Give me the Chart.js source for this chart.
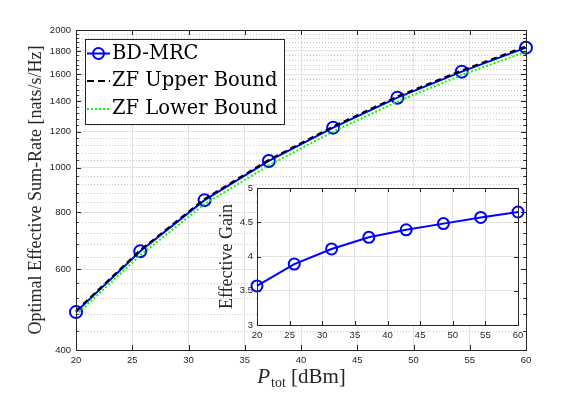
<!DOCTYPE html>
<html lang="en">
<head>
<meta charset="UTF-8">
<title>Sum-rate chart</title>
<script src="https://cdn.jsdelivr.net/npm/chart.js@4.4.0/dist/chart.umd.min.js"></script>
<style>
  html, body { margin: 0; padding: 0; background: #fff; }
  #wrap { position: relative; width: 581px; height: 394px; }
  #wrap canvas { position: absolute; left: 0; top: 0; }
</style>
</head>
<body>
<div id="wrap">
  <canvas id="main" width="581" height="394"></canvas>
  <canvas id="inset" width="581" height="394"></canvas>
</div>
<script>
// data
const ptot = [20, 25.71, 31.43, 37.14, 42.86, 48.57, 54.29, 60];
const bdMrc = [484, 657, 850, 1035, 1224, 1423, 1622, 1830];
const zfUpper = [487, 661, 855, 1041, 1231, 1432, 1632, 1842];
const zfLower = [477, 644, 833, 1012, 1200, 1395, 1595, 1793];
const gain = [3.57, 3.89, 4.11, 4.28, 4.39, 4.48, 4.57, 4.65];

const xTicks = [20, 25, 30, 35, 40, 45, 50, 55, 60];
const yTicks = [400, 600, 800, 1000, 1200, 1400, 1600, 1800, 2000];
const gainTicks = [3, 3.5, 4, 4.5, 5];

const axisColor = '#262626';
const gridColor = '#e3e3e3';
const serif = 'Liberation Serif';
const sans = 'Liberation Sans';

// minor ticks: 5 steps between each pair of labelled y ticks
const yMinor = [];
for (let i = 0; i < yTicks.length - 1; i++) {
  const step = (yTicks[i + 1] - yTicks[i]) / 5;
  for (let k = 1; k < 5; k++) yMinor.push(yTicks[i] + k * step);
}

const pts = (xs, ys) => xs.map((x, i) => ({ x: x, y: ys[i] }));

// box + inward ticks like the original
function frame(chart, majorY, minorY, len) {
  const { ctx, chartArea: a, scales } = chart;
  ctx.save();
  ctx.strokeStyle = axisColor;
  ctx.lineWidth = 1;
  ctx.beginPath();
  xTicks.forEach(v => {
    const px = Math.round(scales.x.getPixelForValue(v)) + 0.5;
    ctx.moveTo(px, a.bottom); ctx.lineTo(px, a.bottom - len);
    ctx.moveTo(px, a.top); ctx.lineTo(px, a.top + len);
  });
  majorY.forEach(v => {
    const py = Math.round(scales.y.getPixelForValue(v)) + 0.5;
    ctx.moveTo(a.left, py); ctx.lineTo(a.left + len, py);
    ctx.moveTo(a.right, py); ctx.lineTo(a.right - len, py);
  });
  minorY.forEach(v => {
    const py = Math.round(scales.y.getPixelForValue(v)) + 0.5;
    ctx.moveTo(a.left, py); ctx.lineTo(a.left + len * 0.55, py);
    ctx.moveTo(a.right, py); ctx.lineTo(a.right - len * 0.55, py);
  });
  ctx.stroke();
  ctx.strokeRect(Math.round(a.left) + 0.5, Math.round(a.top) + 0.5,
    Math.round(a.right - a.left), Math.round(a.bottom - a.top));
  ctx.restore();
}

const mainPlugin = {
  id: 'mainDeco',
  beforeDatasetsDraw(chart) {
    const { ctx, chartArea: a, scales } = chart;
    ctx.save();
    ctx.strokeStyle = '#c8c8c8';
    ctx.lineWidth = 1;
    ctx.setLineDash([1, 2]);
    ctx.beginPath();
    yMinor.forEach(v => {
      const py = Math.round(scales.y.getPixelForValue(v)) + 0.5;
      ctx.moveTo(a.left, py); ctx.lineTo(a.right, py);
    });
    ctx.stroke();
    ctx.restore();
  },
  afterDraw(chart) {
    const { ctx, chartArea: a } = chart;
    frame(chart, yTicks, yMinor, 5);

    // x title: P_tot [dBm]
    ctx.save();
    ctx.fillStyle = axisColor;
    ctx.textBaseline = 'alphabetic';
    const big = '21px "' + serif + '"';
    const bigIt = 'italic 21px "' + serif + '"';
    const small = '14px "' + serif + '"';
    ctx.font = bigIt; const wP = ctx.measureText('P').width;
    ctx.font = small; const wS = ctx.measureText('tot').width;
    ctx.font = big; const wB = ctx.measureText(' [dBm]').width;
    let x = (a.left + a.right) / 2 - (wP + wS + wB) / 2;
    const base = 383;
    ctx.font = bigIt; ctx.fillText('P', x, base); x += wP + 1;
    ctx.font = small; ctx.fillText('tot', x, base + 4); x += wS;
    ctx.font = big; ctx.fillText(' [dBm]', x, base);

    // legend
    const lx = 85, ly = 39, lw = 199, lh = 85;
    ctx.fillStyle = '#fff';
    ctx.fillRect(lx, ly, lw, lh);
    ctx.strokeStyle = axisColor;
    ctx.lineWidth = 1;
    ctx.strokeRect(lx + 0.5, ly + 0.5, lw, lh);
    const items = chart.data.datasets;
    const rows = [53.5, 81, 109];
    ctx.font = '19.5px "DejaVu Serif"';
    items.forEach((ds, i) => {
      const y = rows[i];
      ctx.save();
      ctx.strokeStyle = ds.borderColor;
      ctx.lineWidth = ds.borderWidth;
      ctx.setLineDash(ds.legendDash || []);
      ctx.beginPath(); ctx.moveTo(87, y); ctx.lineTo(110, y); ctx.stroke();
      if (ds.pointRadius > 0) {
        ctx.setLineDash([]);
        ctx.lineWidth = ds.pointBorderWidth;
        ctx.beginPath(); ctx.arc(98.5, y, 5.5, 0, Math.PI * 2); ctx.stroke();
      }
      ctx.restore();
      ctx.fillStyle = '#000';
      ctx.fillText(ds.label, 112, y + 5);
    });
    ctx.restore();
  }
};

new Chart(document.getElementById('main'), {
  type: 'line',
  data: {
    datasets: [
      {
        label: 'BD-MRC', data: pts(ptot, bdMrc),
        borderColor: '#0000ff', borderWidth: 2,
        pointRadius: 6, pointBorderWidth: 2, pointBorderColor: '#0000ff',
        pointBackgroundColor: 'rgba(0,0,0,0)', clip: false, order: 3
      },
      {
        label: 'ZF Upper Bound', data: pts(ptot, zfUpper),
        borderColor: '#000000', borderWidth: 2, borderDash: [6, 4], legendDash: [7, 4],
        pointRadius: 0, clip: false, order: 2
      },
      {
        label: 'ZF Lower Bound', data: pts(ptot, zfLower),
        borderColor: '#00ff00', borderWidth: 2, borderDash: [2, 2], legendDash: [2, 2],
        pointRadius: 0, clip: false, order: 1
      }
    ]
  },
  options: {
    responsive: false,
    animation: false,
    layout: { padding: { left: 0, right: 55, top: 30, bottom: 0 } },
    plugins: { legend: { display: false }, tooltip: { enabled: false } },
    scales: {
      x: {
        type: 'linear', min: 20, max: 60,
        afterBuildTicks: s => { s.ticks = xTicks.map(v => ({ value: v })); },
        afterFit: s => { s.height = 44; },
        ticks: { color: axisColor, padding: 5, font: { family: sans, size: 9.5 } },
        grid: { color: gridColor, drawTicks: false },
        border: { color: axisColor }
      },
      y: {
        type: 'logarithmic', min: 400, max: 2000,
        afterBuildTicks: s => { s.ticks = yTicks.map(v => ({ value: v })); },
        afterFit: s => { s.width = 76; },
        ticks: { color: axisColor, padding: 5, font: { family: sans, size: 9.5 }, callback: v => String(v) },
        grid: { color: gridColor, drawTicks: false },
        border: { color: axisColor },
        title: {
          display: true, text: 'Optimal Effective Sum-Rate [nats/s/Hz]',
          color: axisColor, font: { family: serif, size: 18 }, padding: { top: 25 }
        }
      }
    }
  },
  plugins: [mainPlugin]
});

const insetPlugin = {
  id: 'insetDeco',
  beforeDraw(chart) {
    const { ctx, chartArea: a } = chart;
    ctx.save();
    ctx.fillStyle = '#fff';
    ctx.fillRect(a.left, a.top, a.right - a.left, a.bottom - a.top);
    ctx.restore();
  },
  afterDraw(chart) { frame(chart, gainTicks, [], 4); }
};

new Chart(document.getElementById('inset'), {
  type: 'line',
  data: {
    datasets: [{
      label: 'Effective Gain', data: pts(ptot, gain),
      borderColor: '#0000ff', borderWidth: 2,
      pointRadius: 5.5, pointBorderWidth: 2, pointBorderColor: '#0000ff',
      pointBackgroundColor: 'rgba(0,0,0,0)', clip: false
    }]
  },
  options: {
    responsive: false,
    animation: false,
    layout: { padding: { left: 217, right: 63, top: 188, bottom: 0 } },
    plugins: { legend: { display: false }, tooltip: { enabled: false } },
    scales: {
      x: {
        type: 'linear', min: 20, max: 60,
        afterBuildTicks: s => { s.ticks = xTicks.map(v => ({ value: v })); },
        afterFit: s => { s.height = 69; },
        ticks: { color: axisColor, padding: 5, font: { family: sans, size: 9.5 } },
        grid: { color: gridColor, drawTicks: false },
        border: { color: axisColor }
      },
      y: {
        type: 'linear', min: 3, max: 5,
        afterBuildTicks: s => { s.ticks = gainTicks.map(v => ({ value: v })); },
        afterFit: s => { s.width = 40; },
        ticks: { color: axisColor, padding: 4, font: { family: sans, size: 9.5 }, callback: v => String(v) },
        grid: { color: gridColor, drawTicks: false },
        border: { color: axisColor },
        title: {
          display: true, text: 'Effective Gain',
          color: axisColor, font: { family: serif, size: 18 }, padding: { top: -1 }
        }
      }
    }
  },
  plugins: [insetPlugin]
});
</script>
</body>
</html>
